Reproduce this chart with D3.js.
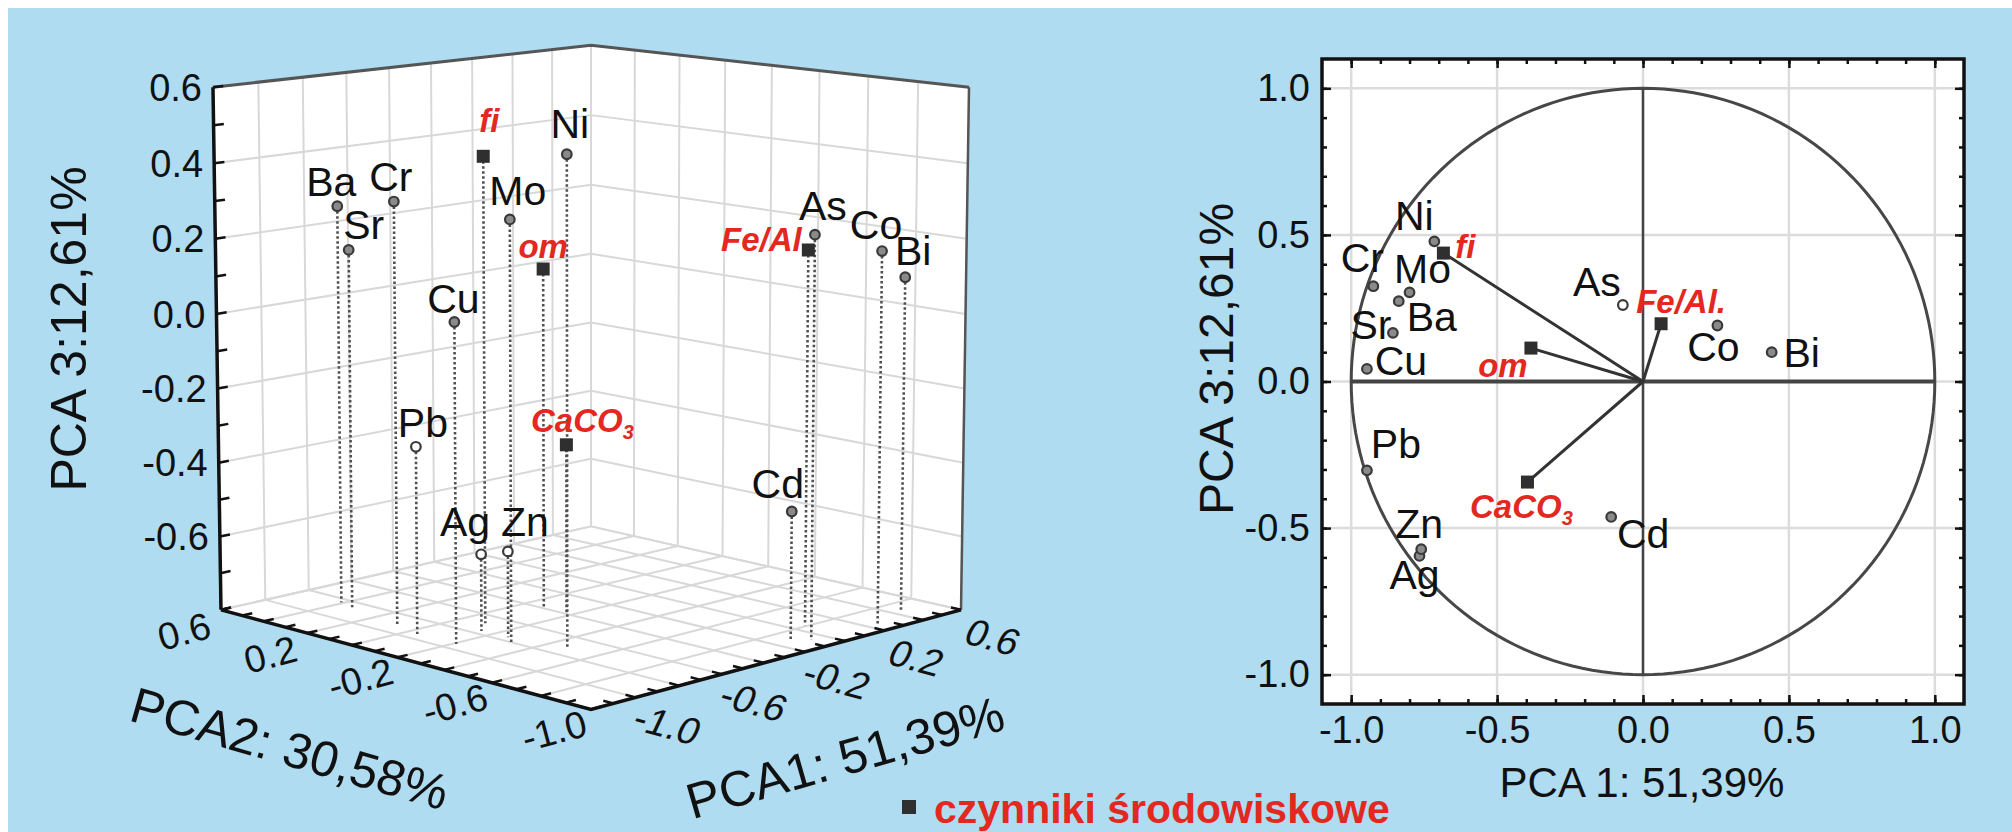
<!DOCTYPE html>
<html>
<head>
<meta charset="utf-8">
<script src="https://cdn.jsdelivr.net/npm/d3@7"></script>
<style>
  body { margin: 0; background: #fff; }
  svg { display: block; }
  text { font-family: "Liberation Sans", Arial, sans-serif; }
</style>
</head>
<body>
<svg id="chart" width="2012" height="832"></svg>
<script>
// PCA loadings of the variables
const names = ['Ba', 'Sr', 'Cr', 'fi', 'Ni', 'Mo', 'om', 'Cu', 'Pb', 'CaCO3', 'Ag', 'Zn', 'As', 'Fe/Al', 'Co', 'Bi', 'Cd'];
const pca1 = [-0.837, -0.857, -0.924, -0.684, -0.715, -0.800, -0.384, -0.946, -0.946, -0.396, -0.766, -0.760, -0.069, 0.062, 0.255, 0.441, -0.109];
const pca2 = [0.41, 0.34, 0.07, -0.09, -0.47, -0.31, -0.07, -0.21, -0.04, -0.18, -0.15, -0.26, -0.92, -0.79, -0.93, -0.88, -0.87];
const pca3 = [0.274, 0.166, 0.325, 0.438, 0.478, 0.304, 0.114, 0.043, -0.303, -0.343, -0.595, -0.572, 0.261, 0.197, 0.191, 0.100, -0.462];

// environmental factors (squares, red labels)
const factors = ['fi', 'om', 'CaCO3', 'Fe/Al'];
// hollow markers in each panel
const hollow3d = ['Pb', 'Ag', 'Zn'];
const hollow2d = ['As'];

// axis ticks
const zTicks3d = [0.6, 0.4, 0.2, 0.0, -0.2, -0.4, -0.6];
const pc2Ticks3d = [0.6, 0.2, -0.2, -0.6, -1.0];
const pc1Ticks3d = [-1.0, -0.6, -0.2, 0.2, 0.6];
const ticks2d = [-1.0, -0.5, 0.0, 0.5, 1.0];

const legendText = 'czynniki środowiskowe';

const RED = '#e3291f';
const fmt = v => v.toFixed(1);

const svg = d3.select('#chart');

// Background panel
svg.append('rect')
  .attr('x', 8).attr('y', 8)
  .attr('width', 2004).attr('height', 824)
  .attr('fill', '#afdcf1');

const rows = names.map((n, i) => ({ name: n, p1: pca1[i], p2: pca2[i], p3: pca3[i] }));

// ---------------------------------------------------------------
// 3D scatter (perspective box)
// ---------------------------------------------------------------
const sU = d3.scaleLinear().domain([-1.2, 0.6]).range([0, 1]);
const sV = d3.scaleLinear().domain([-1.0, 0.6]).range([0, 1]);
const sW = d3.scaleLinear().domain([-0.8, 0.6]).range([0, 1]);

const cam = { cx: 591, cy: 351.3, fx: 4135, fy: 4343, dist: 11.057, tilt: 10.08 * Math.PI / 180, half: 0.6757 };

function project(p1, p2, p3) {
  const u = sU(p1), v = sV(p2), w = sW(p3);
  const e1 = u - v, e2 = u + v - 1, t = (2 * w - 1) * cam.half;
  const s = Math.sin(cam.tilt), c = Math.cos(cam.tilt);
  const depth = e2 * c + cam.dist - t * s;
  return [cam.cx + cam.fx * e1 / depth, cam.cy - cam.fy * (e2 * s + t * c) / depth];
}

const P1 = sU.domain(), P2 = sV.domain(), P3 = sW.domain();
const g3 = svg.append('g').attr('class', 'plot3d');

const poly = pts => 'M' + pts.map(p => p.join(',')).join('L') + 'Z';
const seg = (a, b) => 'M' + a.join(',') + 'L' + b.join(',');

// walls and floor
const leftWall = [[P1[0], P2[1], P3[0]], [P1[1], P2[1], P3[0]], [P1[1], P2[1], P3[1]], [P1[0], P2[1], P3[1]]];
const rightWall = [[P1[1], P2[0], P3[0]], [P1[1], P2[1], P3[0]], [P1[1], P2[1], P3[1]], [P1[1], P2[0], P3[1]]];
const floor = [[P1[0], P2[0], P3[0]], [P1[1], P2[0], P3[0]], [P1[1], P2[1], P3[0]], [P1[0], P2[1], P3[0]]];
[leftWall, rightWall, floor].forEach(face => {
  g3.append('path')
    .attr('d', poly(face.map(p => project(...p))))
    .attr('fill', '#fff').attr('stroke', '#fff').attr('stroke-width', 1);
});

// grid
const grid1 = d3.range(0, 10).map(i => -1.2 + 0.2 * i);
const grid2 = d3.range(0, 9).map(i => -1.0 + 0.2 * i);
const grid3 = d3.range(0, 8).map(i => -0.8 + 0.2 * i);
const gridLines = [];
grid1.forEach(a => {
  gridLines.push([[a, P2[1], P3[0]], [a, P2[1], P3[1]]]);   // left wall verticals
  gridLines.push([[a, P2[0], P3[0]], [a, P2[1], P3[0]]]);   // floor
});
grid2.forEach(b => {
  gridLines.push([[P1[1], b, P3[0]], [P1[1], b, P3[1]]]);   // right wall verticals
  gridLines.push([[P1[0], b, P3[0]], [P1[1], b, P3[0]]]);   // floor
});
grid3.forEach(z => {
  gridLines.push([[P1[0], P2[1], z], [P1[1], P2[1], z]]);   // left wall horizontals
  gridLines.push([[P1[1], P2[0], z], [P1[1], P2[1], z]]);   // right wall horizontals
});
g3.append('g').selectAll('path')
  .data(gridLines)
  .enter().append('path')
  .attr('d', d => seg(project(...d[0]), project(...d[1])))
  .attr('stroke', '#d8d8d8').attr('stroke-width', 2).attr('fill', 'none');

// box edges
g3.append('path')
  .attr('d', 'M' + [project(P1[0], P2[1], P3[1]), project(P1[1], P2[1], P3[1]), project(P1[1], P2[0], P3[1])].map(p => p.join(',')).join('L'))
  .attr('fill', 'none').attr('stroke', '#555').attr('stroke-width', 3);
g3.append('path')
  .attr('d', seg(project(P1[1], P2[0], P3[0]), project(P1[1], P2[0], P3[1])))
  .attr('stroke', '#555').attr('stroke-width', 2.5);
g3.append('path')
  .attr('d', seg(project(P1[0], P2[1], P3[0]), project(P1[0], P2[1], P3[1])))
  .attr('stroke', '#111').attr('stroke-width', 3.5);
g3.append('path')
  .attr('d', 'M' + [project(P1[0], P2[1], P3[0]), project(P1[0], P2[0], P3[0]), project(P1[1], P2[0], P3[0])].map(p => p.join(',')).join('L'))
  .attr('fill', 'none').attr('stroke', '#111').attr('stroke-width', 3.5);

// ticks every 0.1
const ticks = [];
d3.range(0, 15).map(i => -0.8 + 0.1 * i).forEach(z => ticks.push([[P1[0], P2[1], z], [P1[0] + 0.045, P2[1], z]]));
d3.range(0, 17).map(i => -1.0 + 0.1 * i).forEach(b => ticks.push([[P1[0], b, P3[0]], [P1[0] + 0.045, b, P3[0]]]));
d3.range(0, 19).map(i => -1.2 + 0.1 * i).forEach(a => ticks.push([[a, P2[0], P3[0]], [a, P2[0] + 0.04, P3[0]]]));
g3.append('g').selectAll('path')
  .data(ticks)
  .enter().append('path')
  .attr('d', d => seg(project(...d[0]), project(...d[1])))
  .attr('stroke', '#111').attr('stroke-width', 2.5);

// z tick labels
g3.append('g').selectAll('text')
  .data(zTicks3d)
  .enter().append('text')
  .attr('x', d => project(P1[0], P2[1], d)[0] - 11)
  .attr('y', d => project(P1[0], P2[1], d)[1])
  .attr('dy', '0.36em')
  .attr('text-anchor', 'end')
  .attr('font-size', 38).attr('fill', '#111')
  .text(fmt);

// floor tick labels
g3.append('g').selectAll('text')
  .data(pc2Ticks3d)
  .enter().append('text')
  .attr('transform', d => {
    const p = project(P1[0], d, P3[0]);
    return `translate(${p[0] - 37},${p[1] + 21}) rotate(-15)`;
  })
  .attr('dy', '0.36em')
  .attr('text-anchor', 'middle')
  .attr('font-size', 38).attr('fill', '#111')
  .text(fmt);

g3.append('g').selectAll('text')
  .data(pc1Ticks3d)
  .enter().append('text')
  .attr('transform', d => {
    const p = project(d, P2[0], P3[0]);
    return `translate(${p[0] + 32},${p[1] + 27}) rotate(15) skewX(-10)`;
  })
  .attr('dy', '0.36em')
  .attr('text-anchor', 'middle')
  .attr('font-size', 38).attr('fill', '#111')
  .text(fmt);

// axis titles
g3.append('text')
  .attr('transform', 'translate(86,329) rotate(-90)')
  .attr('text-anchor', 'middle')
  .attr('font-size', 50).attr('fill', '#111')
  .text('PCA 3:12,61%');
g3.append('text')
  .attr('transform', 'translate(290,748) rotate(16)')
  .attr('dy', '0.36em')
  .attr('text-anchor', 'middle')
  .attr('font-size', 50).attr('fill', '#111')
  .text('PCA2: 30,58%');
g3.append('text')
  .attr('transform', 'translate(845,757) rotate(-16)')
  .attr('dy', '0.36em')
  .attr('text-anchor', 'middle')
  .attr('font-size', 50).attr('fill', '#111')
  .text('PCA1: 51,39%');

// stems
g3.append('g').selectAll('path')
  .data(rows)
  .enter().append('path')
  .attr('d', d => seg(project(d.p1, d.p2, d.p3), project(d.p1, d.p2, P3[0])))
  .attr('stroke', '#505050').attr('stroke-width', 2.6)
  .attr('stroke-dasharray', '2.5,2.5').attr('fill', 'none');

// label nudges (px) relative to marker: [dx of label centre, dy of baseline]
const nudge3d = {
  Ba: [-6, -10], Cr: [-3, -11], Sr: [15, -11], fi: [6, -24], Ni: [3, -16], Mo: [8, -14],
  om: [0, -11], Cu: [-1, -9], Pb: [7, -10], CaCO3: [16, -13], Ag: [-16, -18], Zn: [17, -15],
  As: [8, -15], 'Fe/Al': [-47, 1], Co: [-6, -12], Bi: [8, -12], Cd: [-14, -13]
};
const nudge2d = {
  Ni: [-20, -11], fi: [22, 5], Cr: [-11, -14], Mo: [13, -9], Ba: [33, 30], Sr: [-22, 6],
  Cu: [34, 6], om: [-28, 29], As: [-26, -9], 'Fe/Al': [20, -11], Co: [-4, 35], Bi: [30, 15],
  Pb: [29, -12], CaCO3: [-6, 36], Zn: [-2, -11], Ag: [-5, 33], Cd: [32, 31]
};

function drawMarker(g, d, x, y, hollow) {
  if (factors.includes(d.name)) {
    g.append('rect')
      .attr('x', x - 6.5).attr('y', y - 6.5).attr('width', 13).attr('height', 13)
      .attr('fill', '#2f2f2f');
  } else {
    g.append('circle')
      .attr('cx', x).attr('cy', y).attr('r', 4.8)
      .attr('fill', hollow ? '#fff' : '#8a8a8a')
      .attr('stroke', '#3a3a3a').attr('stroke-width', 2.2);
  }
}

function drawLabel(g, d, x, y, text) {
  const isFactor = factors.includes(d.name);
  const t = g.append('text')
    .attr('x', x).attr('y', y)
    .attr('text-anchor', 'middle')
    .attr('fill', isFactor ? RED : '#111')
    .attr('font-size', isFactor ? 33 : 41)
    .attr('font-weight', isFactor ? 'bold' : 'normal')
    .attr('font-style', isFactor ? 'italic' : 'normal');
  if (text === 'CaCO3') {
    t.append('tspan').text('CaCO');
    t.append('tspan').attr('font-size', 20).attr('dy', 7).text('3');
  } else {
    t.text(text);
  }
}

const marks3d = g3.append('g');
rows.forEach(d => {
  const [x, y] = project(d.p1, d.p2, d.p3);
  drawMarker(marks3d, d, x, y, hollow3d.includes(d.name));
});
rows.forEach(d => {
  const [x, y] = project(d.p1, d.p2, d.p3);
  const n = nudge3d[d.name];
  drawLabel(marks3d, d, x + n[0], y + n[1], d.name);
});

// ---------------------------------------------------------------
// 2D loading plot PCA1 vs PCA3
// ---------------------------------------------------------------
const x2 = d3.scaleLinear().domain([-1.1, 1.1]).range([1322, 1964]);
const y2 = d3.scaleLinear().domain([-1.1, 1.1]).range([704, 59]);
const g2 = svg.append('g').attr('class', 'plot2d');

g2.append('rect')
  .attr('x', x2(-1.1)).attr('y', y2(1.1))
  .attr('width', x2(1.1) - x2(-1.1)).attr('height', y2(-1.1) - y2(1.1))
  .attr('fill', '#fff');

// grid
ticks2d.forEach(v => {
  g2.append('line')
    .attr('x1', x2(v)).attr('x2', x2(v)).attr('y1', y2(1.1)).attr('y2', y2(-1.1))
    .attr('stroke', '#dcdcdc').attr('stroke-width', 2.5);
  g2.append('line')
    .attr('y1', y2(v)).attr('y2', y2(v)).attr('x1', x2(-1.1)).attr('x2', x2(1.1))
    .attr('stroke', '#dcdcdc').attr('stroke-width', 2.5);
});

// unit circle
const circle = d3.range(0, 361, 2).map(a => [Math.cos(a * Math.PI / 180), Math.sin(a * Math.PI / 180)]);
g2.append('path')
  .attr('d', d3.line().x(d => x2(d[0])).y(d => y2(d[1]))(circle))
  .attr('fill', 'none').attr('stroke', '#474747').attr('stroke-width', 3);

// axes through origin
g2.append('line')
  .attr('x1', x2(-1)).attr('x2', x2(1)).attr('y1', y2(0)).attr('y2', y2(0))
  .attr('stroke', '#444').attr('stroke-width', 4);
g2.append('line')
  .attr('x1', x2(0)).attr('x2', x2(0)).attr('y1', y2(1)).attr('y2', y2(-1))
  .attr('stroke', '#444').attr('stroke-width', 2.5);

// factor vectors
rows.filter(d => factors.includes(d.name)).forEach(d => {
  g2.append('line')
    .attr('x1', x2(0)).attr('y1', y2(0)).attr('x2', x2(d.p1)).attr('y2', y2(d.p3))
    .attr('stroke', '#333').attr('stroke-width', 3);
});

// axes with inward ticks
const minor2d = d3.range(-10, 11).map(i => i / 10);
function styleAxis(sel) {
  sel.select('.domain').remove();
  sel.selectAll('.tick line').attr('stroke', '#111').attr('stroke-width', 2.5);
  sel.selectAll('.tick text').attr('font-size', 38).attr('fill', '#111')
    .style('font-family', '"Liberation Sans", Arial, sans-serif');
}
g2.append('g').attr('transform', `translate(0,${y2(-1.1)})`)
  .call(d3.axisBottom(x2).tickValues(ticks2d).tickSize(-9).tickPadding(12).tickFormat(fmt)).call(styleAxis);
g2.append('g').attr('transform', `translate(${x2(-1.1)},0)`)
  .call(d3.axisLeft(y2).tickValues(ticks2d).tickSize(-9).tickPadding(12).tickFormat(fmt)).call(styleAxis);
g2.append('g').attr('transform', `translate(0,${y2(1.1)})`)
  .call(d3.axisTop(x2).tickValues(ticks2d).tickSize(-9).tickFormat('')).call(styleAxis);
g2.append('g').attr('transform', `translate(${x2(1.1)},0)`)
  .call(d3.axisRight(y2).tickValues(ticks2d).tickSize(-9).tickFormat('')).call(styleAxis);
[['axisBottom', `translate(0,${y2(-1.1)})`], ['axisTop', `translate(0,${y2(1.1)})`]].forEach(([a, tr]) => {
  g2.append('g').attr('transform', tr).call(d3[a](x2).tickValues(minor2d).tickSize(-5).tickFormat('')).call(styleAxis);
});
[['axisLeft', `translate(${x2(-1.1)},0)`], ['axisRight', `translate(${x2(1.1)},0)`]].forEach(([a, tr]) => {
  g2.append('g').attr('transform', tr).call(d3[a](y2).tickValues(minor2d).tickSize(-5).tickFormat('')).call(styleAxis);
});

// frame
g2.append('rect')
  .attr('x', x2(-1.1)).attr('y', y2(1.1))
  .attr('width', x2(1.1) - x2(-1.1)).attr('height', y2(-1.1) - y2(1.1))
  .attr('fill', 'none').attr('stroke', '#111').attr('stroke-width', 3.5);

// titles
g2.append('text')
  .attr('x', 1642).attr('y', 797)
  .attr('text-anchor', 'middle')
  .attr('font-size', 42).attr('fill', '#111')
  .text('PCA 1: 51,39%');
g2.append('text')
  .attr('transform', 'translate(1233,359) rotate(-90)')
  .attr('text-anchor', 'middle')
  .attr('font-size', 48).attr('fill', '#111')
  .text('PCA 3:12,61%');

// points
const marks2d = g2.append('g');
rows.forEach(d => {
  drawMarker(marks2d, d, x2(d.p1), y2(d.p3), hollow2d.includes(d.name));
});
rows.forEach(d => {
  const n = nudge2d[d.name];
  drawLabel(marks2d, d, x2(d.p1) + n[0], y2(d.p3) + n[1], d.name === 'Fe/Al' ? 'Fe/Al.' : d.name);
});

// ---------------------------------------------------------------
// legend
// ---------------------------------------------------------------
svg.append('rect')
  .attr('x', 902).attr('y', 800).attr('width', 14).attr('height', 14)
  .attr('fill', '#2f2f2f');
svg.append('text')
  .attr('x', 934).attr('y', 823)
  .attr('font-size', 41).attr('font-weight', 'bold').attr('fill', RED)
  .text(legendText);
</script>
</body>
</html>
